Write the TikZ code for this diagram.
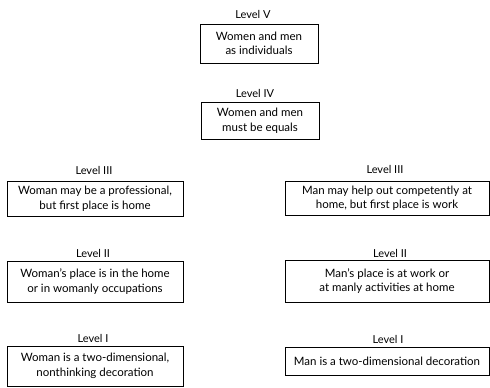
\documentclass[tikz,border=0pt]{standalone}
\usepackage{fontspec}
\setmainfont{Lato}
\begin{document}
\begin{tikzpicture}[x=1pt,y=-1pt,
  box/.style={draw, line width=0.8pt, inner sep=0pt, align=center,
    font=\fontsize{11.5}{14.5}\selectfont},
  lvl/.style={inner sep=0pt, font=\fontsize{11}{13}\selectfont}]
\useasboundingbox (0,0) rectangle (490,388);
% boxes
\node[box, minimum width=118pt, minimum height=39pt] (b5) at (259,43.5) {Women and men\\as individuals};
\node[box, minimum width=118pt, minimum height=37pt] (b4) at (260,120.5) {Women and men\\must be equals};
\node[box, minimum width=176pt, minimum height=35pt] (b3l) at (95,198.5) {Woman may be a professional,\\but first place is home};
\node[box, minimum width=204pt, minimum height=34pt] (b3r) at (387,198) {Man may help out competently at\\home, but first place is work};
\node[box, minimum width=176pt, minimum height=41pt] (b2l) at (95,281.5) {Woman’s place is in the home\\or in womanly occupations};
\node[box, minimum width=204pt, minimum height=42pt] (b2r) at (387,281) {Man’s place is at work or\\at manly activities at home};
\node[box, minimum width=176pt, minimum height=40pt] (b1l) at (95,366) {Woman is a two-dimensional,\\nonthinking decoration};
\node[box, minimum width=204pt, minimum height=28pt] (b1r) at (387,361) {Man is a two-dimensional decoration};
% level labels
\node[lvl] (l5) at (253,14) {Level V};
\node[lvl] (l4) at (255,93) {Level IV};
\node[lvl] (l3l) at (94,170) {Level III};
\node[lvl] (l3r) at (385,169) {Level III};
\node[lvl] (l2l) at (93,253) {Level II};
\node[lvl] (l2r) at (390,253) {Level II};
\node[lvl] (l1l) at (93,338) {Level I};
\node[lvl] (l1r) at (388,339) {Level I};
\end{tikzpicture}
\end{document}
